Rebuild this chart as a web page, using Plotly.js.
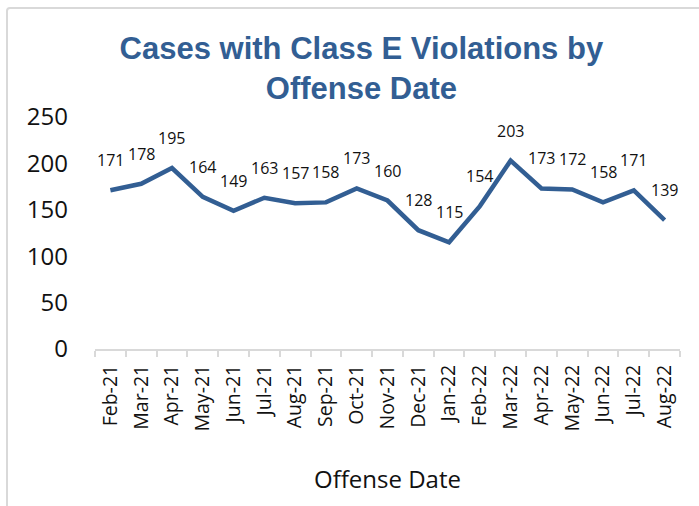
<!DOCTYPE html>
<html>
<head>
<meta charset="utf-8">
<script src="https://cdn.plot.ly/plotly-3.0.1.min.js"></script>
<style>
  html, body { margin: 0; padding: 0; background: #ffffff; overflow: hidden; }
  #frame { position: absolute; left: 6px; top: 7px; width: 720px; height: 540px; border: 2px solid #d9d9d9; border-radius: 4px; box-sizing: border-box; }
  #chart { position: absolute; left: 0; top: 0; width: 699px; height: 506px; }
</style>
</head>
<body>
<div id="frame"></div>
<div id="chart"></div>
<script>
const months = ["Feb-21","Mar-21","Apr-21","May-21","Jun-21","Jul-21","Aug-21","Sep-21","Oct-21","Nov-21","Dec-21","Jan-22","Feb-22","Mar-22","Apr-22","May-22","Jun-22","Jul-22","Aug-22"];
const cases = [171,178,195,164,149,163,157,158,173,160,128,115,154,203,173,172,158,171,139];

const lineColor = "#325E93";
const bodyFont = "Open Sans, Noto Sans, sans-serif";

const trace = {
  x: months,
  y: cases,
  type: "scatter",
  mode: "lines",
  line: { color: lineColor, width: 4.5 },
  hoverinfo: "x+y"
};

const annotations = months.map((m, i) => ({
  x: m, y: cases[i], xref: "x", yref: "y",
  text: String(cases[i]), showarrow: false,
  yshift: 30,
  font: { family: bodyFont, size: 16, color: "#111111" }
}));

const layout = {
  width: 699, height: 506,
  paper_bgcolor: "rgba(0,0,0,0)",
  plot_bgcolor: "rgba(0,0,0,0)",
  margin: { l: 95, r: 19, t: 117, b: 157 },
  showlegend: false,
  title: {
    text: "Cases with Class E Violations by<br>Offense Date",
    font: { family: "Liberation Sans Narrow, Arial Narrow, Liberation Sans, sans-serif", size: 31, color: lineColor, weight: "bold" },
    x: 0.517, xanchor: "center", y: 0.884, yanchor: "middle"
  },
  xaxis: {
    type: "category",
    range: [-0.5, months.length - 0.5],
    tickangle: -90,
    tickfont: { family: bodyFont, size: 19.5, color: "#111111" },
    showline: true, linecolor: "#d9d9d9", linewidth: 2,
    ticks: "outside", tickson: "boundaries", ticklen: 6, tickcolor: "#d9d9d9", tickwidth: 2,
    ticklabelstandoff: 6,
    showgrid: false, zeroline: false,
    title: { text: "Offense Date", font: { family: bodyFont, size: 24, color: "#111111" }, standoff: 41 }
  },
  yaxis: {
    range: [0, 250],
    tick0: 0, dtick: 50,
    tickfont: { family: bodyFont, size: 24, color: "#111111" },
    showgrid: false, zeroline: false, showline: false,
    ticks: "", ticklabelstandoff: 26
  },
  annotations: annotations
};

Plotly.newPlot("chart", [trace], layout, { displayModeBar: false, staticPlot: true });
</script>
</body>
</html>
